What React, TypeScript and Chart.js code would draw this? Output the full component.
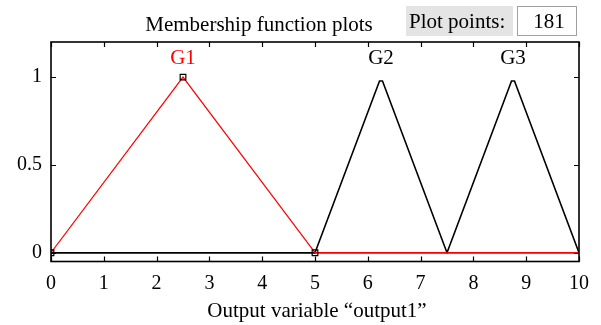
import React, { useEffect, useRef } from 'react';
import { Chart, registerables } from 'chart.js';

Chart.register(...registerables);

// ---- data ----
const xTickValues = [0, 1, 2, 3, 4, 5, 6, 7, 8, 9, 10];
const yTickValues = [0, 0.5, 1];
const g1X = [0, 2.5, 5, 10];
const g1Y = [0, 1, 0, 0];
const g2X = [0, 5, 6.222, 6.278, 7.5, 10];
const g2Y = [0, 0, 0.978, 0.978, 0, 0];
const g3X = [0, 7.5, 8.722, 8.778, 10];
const g3Y = [0, 0, 0.978, 0.978, 0];
const markerX = [0, 2.5, 5];
const markerY = [0, 1, 0];
const mfNames = ['G1', 'G2', 'G3'];
const mfPeaks = [2.5, 6.25, 8.75];
const mfColors = ['#ff0000', '#000000', '#000000'];
const titleText = 'Membership function plots';
const xAxisLabel = 'Output variable \u201Coutput1\u201D';
const plotPointsLabel = 'Plot points:';
const plotPointsValue = '181';

const FONT = "'Liberation Serif', 'Times New Roman', serif";

const toPts = (xs: number[], ys: number[]) => xs.map((x, i) => ({ x, y: ys[i] }));

const decorPlugin = {
  id: 'decor',
  afterDatasetsDraw(chart: any) {
    const ctx = chart.ctx as CanvasRenderingContext2D;
    const { left, right, top, bottom } = chart.chartArea;
    const xs = chart.scales.x;
    const ys = chart.scales.y;
    ctx.save();
    // inward tick marks
    ctx.strokeStyle = '#000';
    ctx.lineWidth = 1.2;
    const tl = 5;
    ctx.beginPath();
    xTickValues.forEach((v) => {
      const px = Math.round(xs.getPixelForValue(v)) + 0.5;
      ctx.moveTo(px, bottom);
      ctx.lineTo(px, bottom - tl);
      ctx.moveTo(px, top);
      ctx.lineTo(px, top + tl);
    });
    yTickValues.forEach((v) => {
      const py = Math.round(ys.getPixelForValue(v)) + 0.5;
      ctx.moveTo(left, py);
      ctx.lineTo(left + tl, py);
      ctx.moveTo(right, py);
      ctx.lineTo(right - tl, py);
    });
    ctx.stroke();
    // box
    ctx.lineWidth = 1.6;
    ctx.strokeRect(left, top, right - left, bottom - top);

    // MF labels
    ctx.font = `21px ${FONT}`;
    ctx.textAlign = 'center';
    ctx.textBaseline = 'alphabetic';
    mfNames.forEach((n, i) => {
      ctx.fillStyle = mfColors[i];
      ctx.fillText(n, xs.getPixelForValue(mfPeaks[i]), ys.getPixelForValue(1) - 13);
    });

    // title
    ctx.fillStyle = '#000';
    ctx.font = `21px ${FONT}`;
    ctx.fillText(titleText, 259, 31);

    // x axis label
    ctx.fillText(xAxisLabel, (left + right) / 2 + 2, 317);

    // plot points boxes
    ctx.fillStyle = '#e4e4e4';
    ctx.fillRect(406, 6, 107, 30);
    ctx.fillStyle = '#fff';
    ctx.fillRect(517, 6, 60, 30);
    ctx.strokeStyle = '#a0a0a0';
    ctx.lineWidth = 1;
    ctx.strokeRect(517.5, 6.5, 59, 29);
    ctx.fillStyle = '#000';
    ctx.textAlign = 'left';
    ctx.fillText(plotPointsLabel, 409, 28);
    ctx.textAlign = 'center';
    ctx.fillText(plotPointsValue, 549, 28);
    ctx.restore();
  },
};

export default function App() {
  const ref = useRef<HTMLCanvasElement | null>(null);
  useEffect(() => {
    if (!ref.current) return;
    const chart = new Chart(ref.current, {
      type: 'scatter',
      data: {
        datasets: [
          {
            data: toPts(markerX, markerY),
            showLine: false,
            pointStyle: 'rect',
            pointRadius: 4,
            pointBorderColor: '#000',
            pointBackgroundColor: 'rgba(0,0,0,0)',
            pointBorderWidth: 1.2,
          },
          {
            data: toPts(g1X, g1Y),
            showLine: true,
            borderColor: '#ff0000',
            borderWidth: 1.2,
            pointRadius: 0,
          },
          {
            data: toPts(g2X, g2Y),
            showLine: true,
            borderColor: '#000',
            borderWidth: 1.6,
            pointRadius: 0,
          },
          {
            data: toPts(g3X, g3Y),
            showLine: true,
            borderColor: '#000',
            borderWidth: 1.6,
            pointRadius: 0,
          },
        ],
      },
      options: {
        responsive: false,
        animation: false,
        events: [],
        layout: { padding: { left: 0, right: 22, top: 42, bottom: 0 } },
        plugins: { legend: { display: false }, tooltip: { enabled: false }, title: { display: false } },
        scales: {
          x: {
            type: 'linear',
            min: 0,
            max: 10,
            grid: { display: false, drawTicks: false },
            border: { display: false },
            afterBuildTicks: (s: any) => {
              s.ticks = xTickValues.map((v) => ({ value: v }));
            },
            afterFit: (s: any) => {
              s.height = 63.5;
            },
            ticks: {
              autoSkip: false,
              maxRotation: 0,
              padding: 10,
              color: '#000',
              font: { family: FONT, size: 20 },
              callback: (v: any) => String(v),
            },
          },
          y: {
            type: 'linear',
            min: -0.05,
            max: 1.2,
            grid: { display: false, drawTicks: false },
            border: { display: false },
            afterBuildTicks: (s: any) => {
              s.ticks = yTickValues.map((v) => ({ value: v }));
            },
            afterFit: (s: any) => {
              s.width = 51;
            },
            ticks: {
              padding: 9,
              color: '#000',
              font: { family: FONT, size: 20 },
              callback: (v: any) => String(v),
            },
          },
        },
      },
      plugins: [decorPlugin],
    } as any);
    return () => chart.destroy();
  }, []);
  return (
    <div style={{ position: 'absolute', left: 0, top: 0, width: 601, height: 325, background: '#fff' }}>
      <canvas ref={ref} width={601} height={325} style={{ display: 'block', width: 601, height: 325 }} />
    </div>
  );
}
